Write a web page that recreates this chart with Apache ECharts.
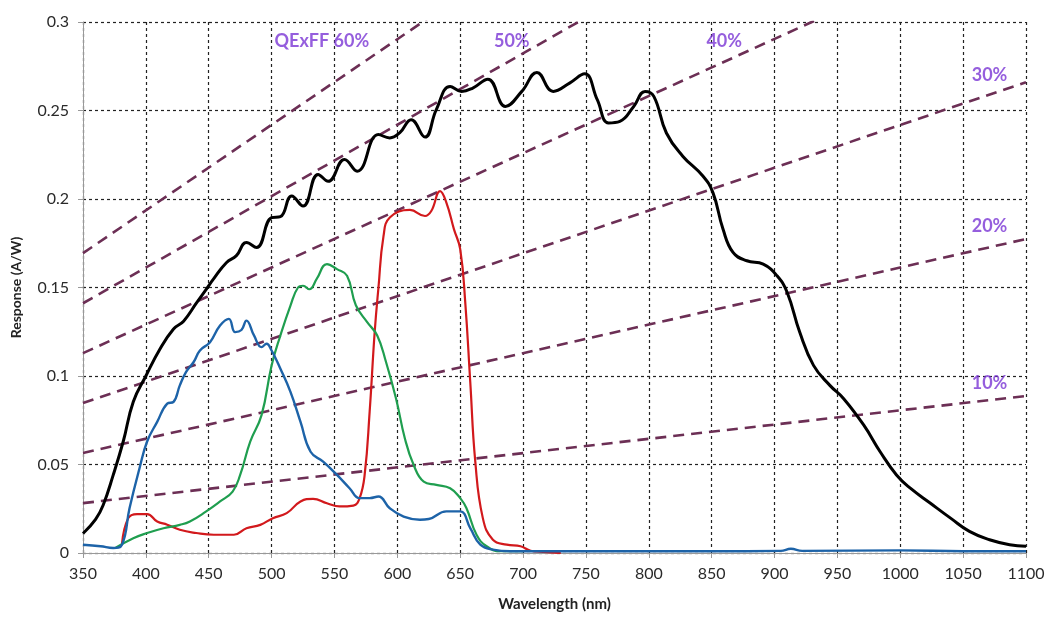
<!DOCTYPE html>
<html>
<head>
<meta charset="utf-8">
<script src="https://cdn.jsdelivr.net/npm/echarts@6/dist/echarts.min.js"></script>
<style>
  html, body { margin: 0; padding: 0; background: #fff; }
  #chart { width: 1051px; height: 617px; }
</style>
</head>
<body>
<div id="chart"></div>
<script>
// wavelength ticks (nm) and response ticks (A/W)
const xTicks = [350, 1100, 50];
const yTicks = [0, 0.3, 0.05];

// curves: [wavelength, response]
const monoCurve = [[350,0.011],[360,0.019],[366,0.027],[374,0.044],[382,0.063],[390,0.0855],[400,0.100],[411,0.115],[422,0.1266],[430,0.131],[440,0.141],[448,0.149],[454,0.155],[464,0.164],[472,0.168],[480,0.1754],[488,0.1726],[500,0.1895],[507,0.190],[516,0.2017],[525,0.196],[537,0.2139],[545,0.210],[558,0.2223],[568,0.2157],[585,0.2364],[594,0.2345],[602,0.2375],[611,0.2448],[622,0.235],[631,0.2505],[642,0.2636],[651,0.2608],[660,0.2627],[672,0.2677],[686,0.2523],[699,0.2608],[711,0.2715],[724,0.2608],[737,0.2655],[749,0.2707],[759,0.2561],[768,0.243],[777,0.2439],[788,0.2523],[797,0.2608],[804,0.258],[814,0.2373],[827,0.2242],[843,0.213],[851,0.2036],[859,0.183],[867,0.1698],[878,0.1651],[891,0.1632],[902,0.1566],[910,0.1473],[920,0.1248],[931,0.106],[944,0.0947],[955,0.0872],[971,0.0722],[984,0.0572],[997,0.0441],[1008,0.0366],[1024,0.0281],[1040,0.0197],[1055,0.0122],[1071,0.0075],[1087,0.0047],[1100,0.0038]];

const blueCurve = [[350,0.0047],[364,0.0038],[374,0.0028],[381,0.0047],[387,0.0253],[395,0.048],[401,0.063],[409,0.0741],[417,0.0844],[422,0.0854],[427,0.0947],[432,0.1023],[438,0.1079],[443,0.1144],[451,0.1191],[459,0.1285],[466,0.1323],[471,0.1248],[476,0.126],[480,0.1313],[486,0.1229],[492,0.1163],[496,0.1182],[500,0.1144],[507,0.1041],[515,0.091],[523,0.0741],[531,0.0572],[541,0.0516],[552,0.0441],[562,0.0366],[570,0.031],[578,0.031],[585,0.0319],[594,0.0253],[605,0.0206],[618,0.0188],[625,0.0192],[639,0.0235],[650,0.0235],[658,0.014],[666,0.0047],[676,0.0019],[690,0.001],[750,0.001],[850,0.001],[905,0.0012],[913,0.0024],[922,0.0012],[1000,0.0015],[1050,0.001],[1100,0.001]];

const greenCurve = [[376,0.003],[390,0.0084],[401,0.0113],[414,0.014],[427,0.0159],[435,0.0178],[448,0.0235],[459,0.0291],[469,0.0347],[475,0.0441],[483,0.0629],[492,0.0779],[500,0.106],[507,0.1229],[515,0.1398],[521,0.150],[525,0.151],[530,0.149],[536,0.155],[544,0.1632],[552,0.1604],[560,0.1566],[567,0.140],[576,0.1304],[584,0.1229],[591,0.1079],[599,0.0872],[606,0.0647],[613,0.0497],[621,0.0403],[631,0.0385],[642,0.0366],[650,0.031],[655,0.0253],[663,0.0103],[671,0.0038],[682,0.001],[700,0.001]];

const redCurve = [[381,0.005],[386,0.0197],[393,0.022],[401,0.022],[409,0.0178],[417,0.016],[427,0.0131],[440,0.0113],[454,0.0103],[470,0.0103],[480,0.014],[491,0.0159],[501,0.0197],[512,0.0225],[523,0.0291],[533,0.0306],[544,0.0281],[554,0.0263],[565,0.0268],[570,0.031],[574,0.0441],[578,0.08],[582,0.125],[585,0.15],[589,0.179],[594,0.1895],[610,0.1938],[622,0.1904],[627,0.1932],[634,0.2045],[639,0.198],[645,0.183],[650,0.1717],[654,0.1417],[658,0.0966],[662,0.0516],[668,0.0197],[676,0.0075],[687,0.0047],[698,0.0038],[706,0.0013],[716,0.0006],[730,0]];

// QExFF reference lines: response at 350 nm and at 1100 nm
const qeNames = ['10%', '20%', '30%', '40%', '50%', 'QExFF 60%'];
const qeStart = [0.0282, 0.0565, 0.0847, 0.1129, 0.1411, 0.1694];
const qeEnd = [0.0887, 0.1774, 0.266, 0.355, 0.4436, 0.532];
// where each label sits
const qeLabelPos = [[1071, 0.0957], [1071, 0.1846], [1071, 0.270], [860, 0.289], [691, 0.289], [540, 0.289]];

const myChart = echarts.init(document.getElementById('chart'));
const font = 'Lato, "Open Sans", sans-serif';

const qeSeries = qeNames.map(function (name, i) {
  return {
    type: 'line',
    name: name,
    data: [[xTicks[0], qeStart[i]], [xTicks[1], qeEnd[i]]],
    showSymbol: false,
    symbol: 'none',
    clip: true,
    silent: true,
    z: 3,
    lineStyle: { color: '#6c2f55', width: 2.6, type: [11, 7] }
  };
});

function curve(name, data, color, width) {
  return {
    type: 'line',
    name: name,
    data: data,
    symbol: 'none',
    smooth: 0.45,
    clip: true,
    z: 5,
    lineStyle: { color: color, width: width, join: 'round' }
  };
}

const option = {
  backgroundColor: '#fff',
  animation: false,
  textStyle: { fontFamily: font },
  grid: { left: 83, right: 25, top: 22, bottom: 62, containLabel: false },
  xAxis: {
    type: 'value',
    min: xTicks[0],
    max: xTicks[1],
    interval: xTicks[2],
    name: 'Wavelength (nm)',
    nameLocation: 'middle',
    nameGap: 44,
    nameTextStyle: { fontSize: 15, fontWeight: 'bold', color: '#222', fontFamily: font },
    axisLine: { lineStyle: { color: '#999', width: 1 } },
    axisTick: { show: true, length: 5, lineStyle: { color: '#999' } },
    axisLabel: { fontSize: 16, color: '#2a2a2a', margin: 13, fontFamily: font,
      formatter: function (v) { return String(v); } },
    splitLine: { show: true, lineStyle: { color: '#222', type: [3, 3], width: 1.2 } }
  },
  yAxis: {
    type: 'value',
    min: yTicks[0],
    max: yTicks[1],
    interval: yTicks[2],
    name: 'Response (A/W)',
    nameLocation: 'middle',
    nameGap: 60,
    nameTextStyle: { fontSize: 14, fontWeight: 'bold', color: '#222', fontFamily: font },
    axisLine: { show: true, lineStyle: { color: '#999', width: 1 } },
    axisTick: { show: true, length: 5, lineStyle: { color: '#999' } },
    axisLabel: { fontSize: 16, color: '#2a2a2a', margin: 14, fontFamily: font,
      formatter: function (v) { return String(+v.toFixed(2)); } },
    splitLine: { show: true, lineStyle: { color: '#222', type: [3, 3], width: 1.2 } }
  },
  series: qeSeries.concat([
    curve('Red', redCurve, '#d2191c', 2.2),
    curve('Green', greenCurve, '#1f9e4f', 2.2),
    curve('Blue', blueCurve, '#1d63a8', 2.4),
    curve('Mono', monoCurve, '#000', 3),
    {
      type: 'scatter',
      name: 'QE labels',
      symbolSize: 0,
      silent: true,
      z: 6,
      data: qeLabelPos.map(function (p, i) { return { value: p, name: qeNames[i] }; }),
      label: {
        show: true,
        position: 'inside',
        formatter: '{b}',
        color: '#7a36d4',
        fontSize: 18,
        fontWeight: 'bold',
        fontFamily: font
      }
    }
  ])
};
myChart.setOption(option);
</script>
</body>
</html>
